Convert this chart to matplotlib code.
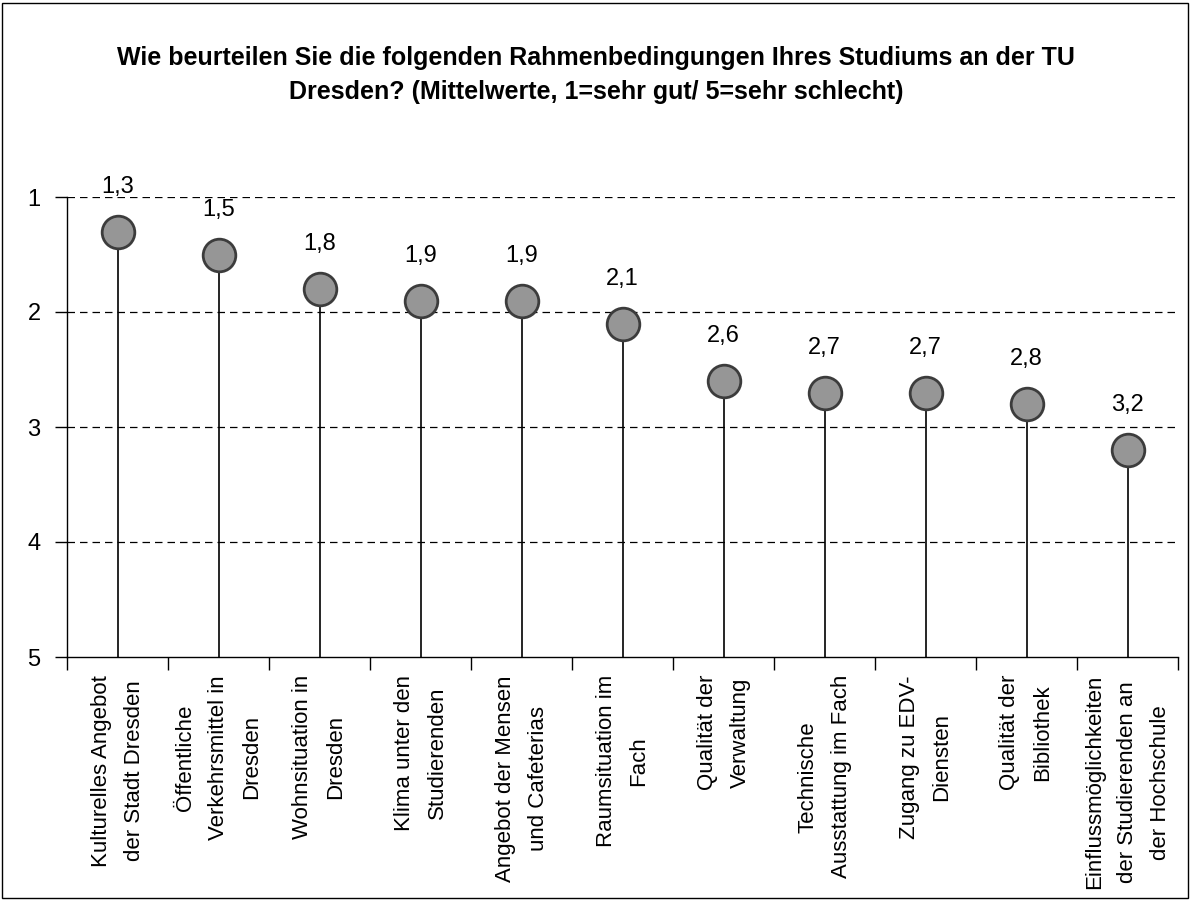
import matplotlib
matplotlib.use('Agg')
import matplotlib.pyplot as plt
from matplotlib.patches import Rectangle

# Data
categories = [
    'Kulturelles Angebot\nder Stadt Dresden',
    'Öffentliche\nVerkehrsmittel in\nDresden',
    'Wohnsituation in\nDresden',
    'Klima unter den\nStudierenden',
    'Angebot der Mensen\nund Cafeterias',
    'Raumsituation im\nFach',
    'Qualität der\nVerwaltung',
    'Technische\nAusstattung im Fach',
    'Zugang zu EDV-\nDiensten',
    'Qualität der\nBibliothek',
    'Einflussmöglichkeiten\nder Studierenden an\nder Hochschule',
]
values = [1.3, 1.5, 1.8, 1.9, 1.9, 2.1, 2.6, 2.7, 2.7, 2.8, 3.2]
y_ticks = [1, 2, 3, 4, 5]

plt.rcParams['font.family'] = ['Liberation Sans', 'DejaVu Sans']

fig = plt.figure(figsize=(11.92, 9), dpi=100)
ax = fig.add_axes([67 / 1192, 1 - 657 / 900, (1178 - 67) / 1192, (657 - 197) / 900])

x = list(range(len(values)))

# stems from the value down to the bottom axis
ax.vlines(x, values, 5, colors='black', linewidth=1.2, zorder=2)
ax.plot(x, values, 'o', markersize=23.5, markerfacecolor='#969696',
        markeredgecolor='#3c3c3c', markeredgewidth=2, zorder=3, clip_on=False)

for xi, v in zip(x, values):
    ax.annotate(f'{v:.1f}'.replace('.', ','), (xi, v), xytext=(0, 28),
                textcoords='offset points', ha='center', va='baseline',
                fontsize=17)

ax.set_xlim(-0.5, len(values) - 0.5)
ax.set_ylim(5, 1)
ax.set_yticks(y_ticks)
ax.set_yticklabels([str(t) for t in y_ticks], fontsize=17)
ax.tick_params(axis='y', length=9, width=1, direction='out', pad=10)

for t in y_ticks[:-1]:
    ax.axhline(t, color='black', linewidth=0.9, linestyle=(0, (6, 4)), zorder=1)

ax.set_xticks(x)
ax.set_xticklabels(categories, rotation=90, fontsize=16, linespacing=1.75,
                   ha='center', va='top', multialignment='center')
ax.tick_params(axis='x', which='major', length=0, pad=13)
ax.set_xticks([i - 0.5 for i in range(len(values) + 1)], minor=True)
ax.tick_params(axis='x', which='minor', length=9, width=1, direction='out')

for side in ['top', 'right']:
    ax.spines[side].set_visible(False)
for side in ['left', 'bottom']:
    ax.spines[side].set_linewidth(1)

fig.text(0.5, 1 - 75 / 900,
         'Wie beurteilen Sie die folgenden Rahmenbedingungen Ihres Studiums an der TU\n'
         'Dresden? (Mittelwerte, 1=sehr gut/ 5=sehr schlecht)',
         ha='center', va='center', fontsize=18, fontweight='bold',
         linespacing=1.5)

fig.patches.append(Rectangle((0.002, 0.002), 0.995, 0.995, transform=fig.transFigure,
                             fill=False, edgecolor='black', linewidth=1))

fig.savefig('out.png', dpi=100)
